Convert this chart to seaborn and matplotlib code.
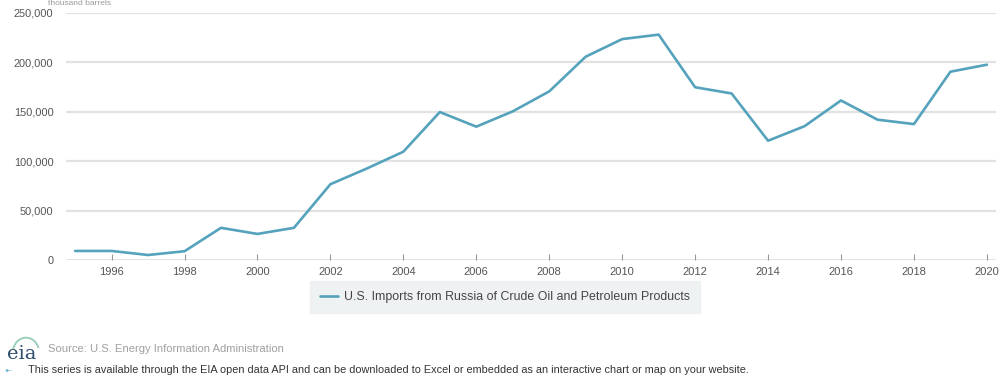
import matplotlib
matplotlib.use("Agg")
import matplotlib.pyplot as plt
import seaborn as sns
import pandas as pd
from matplotlib.ticker import FuncFormatter
from matplotlib.patches import Arc

years = list(range(1995, 2021))
imports = [9300, 9300, 5200, 9000, 32700, 26500, 32700, 76800, 92700, 109700,
           149800, 135000, 150500, 170700, 205800, 223600, 228100, 174900, 168600,
           120800, 135500, 161500, 142100, 137600, 190600, 197700]
series_name = "U.S. Imports from Russia of Crude Oil and Petroleum Products"
x_ticks = list(range(1996, 2021, 2))
y_ticks = [0, 50000, 100000, 150000, 200000, 250000]

df = pd.DataFrame({"year": years, "value": imports, "series": series_name})

sns.set_style("white")
plt.rcParams['font.family'] = ['Liberation Sans', 'DejaVu Sans']

fig = plt.figure(figsize=(10, 3.82), dpi=100)
ax = fig.add_axes([0.066, 0.319, 0.93, 0.647])

line_color = "#55a2bc"
sns.lineplot(data=df, x="year", y="value", hue="series", palette=[line_color],
             linewidth=1.9, ax=ax, legend=True)

ax.set_xlim(1994.75, 2020.25)
ax.set_ylim(0, 250000)
ax.set_xticks(x_ticks)
ax.set_yticks(y_ticks)
ax.yaxis.set_major_formatter(FuncFormatter(lambda v, p: f"{int(v):,}"))
ax.set_xlabel("")
ax.set_ylabel("")

for v in y_ticks[1:]:
    ax.axhline(v, color="#e2e2e2", linewidth=1.6, zorder=0)
ax.axhline(0, color="#707070", linewidth=1.0, zorder=1)

for s in ax.spines.values():
    s.set_visible(False)

ax.tick_params(axis="x", length=4, width=0.8, color="#999999", direction="in",
               labelsize=8.0, labelcolor="#555555", pad=5)
ax.tick_params(axis="y", length=0, labelsize=7.9, labelcolor="#555555", pad=9)
ax.tick_params(axis="x", bottom=True)

leg = ax.legend(loc="center", bbox_to_anchor=(505 / 1000, 1 - 297 / 382),
                bbox_transform=fig.transFigure, frameon=True, fontsize=8.9,
                handlelength=1.4, handletextpad=0.5, borderpad=0.8,
                fancybox=False)
leg.get_frame().set_facecolor("#eceff1")
leg.get_frame().set_edgecolor("#eceff1")
for t in leg.get_texts():
    t.set_color("#444444")

fig.text(0.048, 0.999, "thousand barrels", fontsize=6, color="#999999",
         ha="left", va="top")

arc = Arc((0.026, 1 - 352 / 382), 0.026, 0.075, theta1=40, theta2=150,
          transform=fig.transFigure, color="#9ccfb8", linewidth=1.4)
fig.add_artist(arc)
fig.text(0.007, 1 - 354 / 382, "eia", fontsize=14, family="DejaVu Serif",
         color="#2f4f6f", ha="left", va="center")
fig.text(0.048, 1 - 349 / 382, "Source: U.S. Energy Information Administration",
         fontsize=8.1, color="#a0a0a0", ha="left", va="center")
fig.text(0.004, 1 - 370 / 382, "\u25cf\u2013", fontsize=5, color="#7fb8d0",
         ha="left", va="center")
fig.text(0.028, 1 - 370 / 382,
         "This series is available through the EIA open data API and can be downloaded to Excel or embedded as an interactive chart or map on your website.",
         fontsize=7.8, color="#333333", ha="left", va="center")

fig.savefig("out.png", dpi=100, facecolor="white")
